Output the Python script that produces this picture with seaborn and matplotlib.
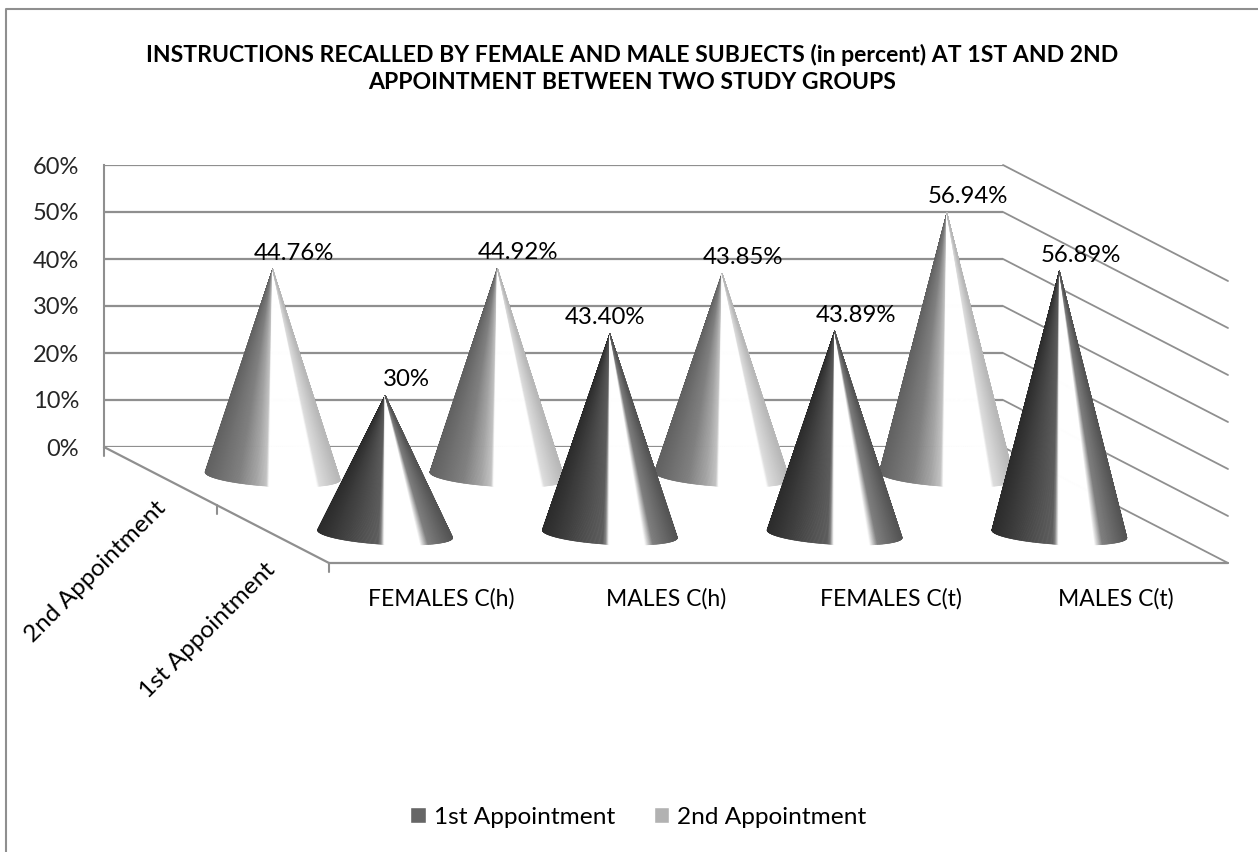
import numpy as np
import seaborn as sns
import matplotlib
matplotlib.use("Agg")
import matplotlib.pyplot as plt
from matplotlib.collections import PolyCollection
from matplotlib.lines import Line2D
from matplotlib.patches import Patch

categories = ["FEMALES C(h)", "MALES C(h)", "FEMALES C(t)", "MALES C(t)"]
first_appointment = [30, 43.40, 43.89, 56.89]
second_appointment = [44.76, 44.92, 43.85, 56.94]
first_labels = ["30%", "43.40%", "43.89%", "56.89%"]
second_labels = ["44.76%", "44.92%", "43.85%", "56.94%"]
series_names = ["1st Appointment", "2nd Appointment"]
y_ticks = [0, 10, 20, 30, 40, 50, 60]
title = ("INSTRUCTIONS RECALLED BY FEMALE AND MALE SUBJECTS (in percent) AT 1ST AND 2ND\n"
         "APPOINTMENT BETWEEN TWO STUDY GROUPS")

W, H = 1258, 852
FONT = "Lato"
LINE = "#8f8f8f"
sns.set_theme(style="white", rc={"font.family": FONT, "text.color": "black",
                                 "axes.edgecolor": LINE, "axes.linewidth": 1.5})

fig = plt.figure(figsize=(W / 100, H / 100), dpi=100, facecolor="white")
L, R, T, B = 104, 1003, 165, 447   # back wall, pixels
ax = fig.add_axes([L / W, 1 - B / H, (R - L) / W, (B - T) / H])
ax.set_xlim(0, 4)
ax.set_ylim(0, 60)
PX = 4 / (R - L)
PY = 60 / (B - T)
DX = 225 * PX        # oblique floor shift for full depth
DY = 116 * PY
APEX_SCALE = 0.983   # rendered cone tips stop just short of the value


def project(cat_pos, depth, value):
    return cat_pos + depth * DX, value - depth * DY


def cone(cat_pos, depth, value, stops):
    cx, cy = project(cat_pos, depth, 0)
    ax_x, ax_y = project(cat_pos, depth, value * APEX_SCALE)
    a, b, shear = 67.5, 10.5, 3.8
    height_px = value / PY
    t0 = np.arcsin(min(1, b / height_px))
    ts = np.linspace(np.pi - t0, 2 * np.pi + t0, 260)
    px = cx + a * np.cos(ts) * PX
    py = cy + (b * np.sin(ts) - shear * np.cos(ts)) * PY
    polys, cols = [], []
    fs = (np.cos(ts) + 1) / 2
    sf, sv = zip(*stops)
    for i in range(len(ts) - 1):
        polys.append([(ax_x, ax_y), (px[i], py[i]), (px[i + 1], py[i + 1])])
        g = float(np.interp((fs[i] + fs[i + 1]) / 2, sf, sv))
        cols.append((g, g, g))
    pc = PolyCollection(polys, facecolors=cols, edgecolors=cols, linewidths=0.4,
                        zorder=3, clip_on=False)
    ax.add_collection(pc)
    return ax_x, ax_y


# gridlines on the back wall and the side wall
ax.set_yticks(y_ticks)
ax.set_yticklabels([f"{v}%" for v in y_ticks], fontsize=17, family=FONT)
ax.tick_params(axis="y", length=0, pad=18)
ax.set_xticks([])
ax.yaxis.grid(True, color=LINE, lw=1.6)
ax.set_axisbelow(True)
for s in ["right", "bottom", "top"]:
    ax.spines[s].set_visible(False)

for v in y_ticks:
    x0, y0 = project(4, 0, v)
    x1, y1 = project(4, 1, v)
    sns.lineplot(x=[x0, x1], y=[y0, y1], color=LINE, lw=1.3, ax=ax, estimator=None,
                 sort=False, clip_on=False, zorder=1)

# floor edges and ticks
for xs, ys in [((0, DX), (0, -DY)), ((DX, 4 + DX), (-DY, -DY))]:
    sns.lineplot(x=list(xs), y=list(ys), color=LINE, lw=1.6, ax=ax, estimator=None,
                 sort=False, clip_on=False, zorder=1)
for d in [0, 0.5, 1]:
    x0, y0 = project(0, d, 0)
    sns.lineplot(x=[x0, x0], y=[y0, y0 - 9 * PY], color=LINE, lw=1.5, ax=ax, estimator=None,
                 sort=False, clip_on=False, zorder=1)

second_stops = [(0, .38), (.25, .50), (.38, .64), (.455, .76), (.475, 1), (.83, 1), (.85, .87), (1, .72)]
first_stops = [(0, .17), (.45, .36), (.47, .5), (.495, 1), (.76, 1), (.82, .5), (1, .33)]

ax.set_xlim(0, 4)
ax.set_ylim(0, 60)
ax.set_xlabel("")
ax.set_ylabel("")

tops = []
for i, v in enumerate(second_appointment):
    tops.append((cone(i + .5, .25, v, second_stops), second_labels[i], 21))
for i, v in enumerate(first_appointment):
    tops.append((cone(i + .5, .75, v, first_stops), first_labels[i], -5 if i == 1 else 21))
for (x, y), s, off in tops:
    ax.text(x + off * PX, y + 16 * PY, s, ha="center", va="center", fontsize=17.3,
            zorder=5, clip_on=False)

# category labels on the front edge
for i, c in enumerate(categories):
    x, y = project(i + .5, 1, 0)
    ax.text(x, y - 35.5 * PY, c, ha="center", va="center", fontsize=16.5, clip_on=False)

# depth labels
for name, d in zip(series_names, [.75, .25]):
    x, y = project(0, d, 0)
    ax.text(x - 65 * PX, y - 96 * PY, name, rotation=45, ha="center", va="center",
            fontsize=17.6, clip_on=False)

fig.text(632 / W, 1 - 68.5 / H, title, ha="center", va="center", fontsize=16.6,
         fontweight="bold", linespacing=1.38)

pal = sns.color_palette(["#666666", "#b2b2b2"])
handles = [Patch(facecolor=pal[0], label=series_names[0]),
           Patch(facecolor=pal[1], label=series_names[1])]
fig.legend(handles=handles, loc="center", bbox_to_anchor=(638.5 / W, 1 - 817 / H), ncol=2,
           frameon=False, fontsize=17.6, handlelength=.62, handleheight=.62, handletextpad=.33,
           columnspacing=1.6, borderpad=0)

# chart frame, cut by the picture on the right and at the bottom
fy = 1 - 8.5 / H
fx = 6 / W
fig.add_artist(Line2D([fx, fx, 1], [0, fy, fy], color=LINE, lw=1.5, transform=fig.transFigure))

fig.savefig("out.png", dpi=100, facecolor="white")
